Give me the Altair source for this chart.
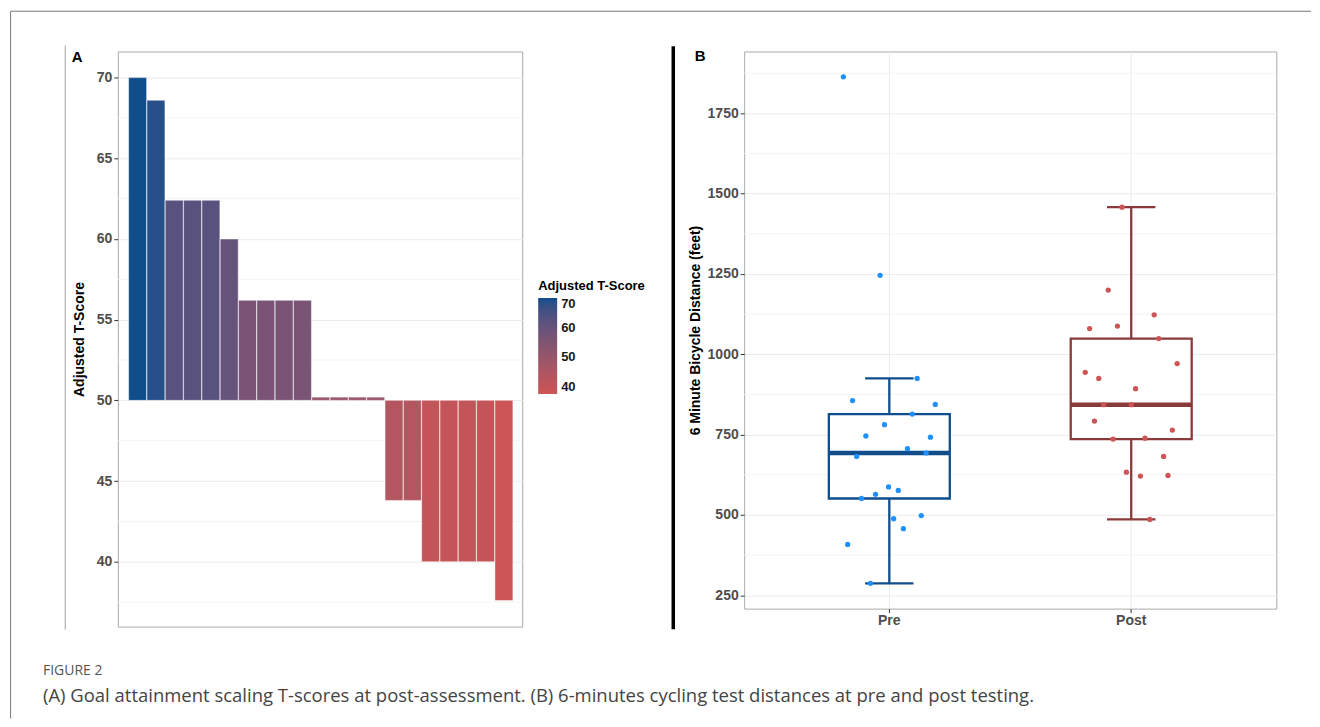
import altair as alt
import pandas as pd

# ---------------- Panel A data ----------------
participants = [f"P{i:02d}" for i in range(1, 22)]
t_scores = [70.0, 68.6, 62.4, 62.4, 62.4, 60.0, 56.2, 56.2, 56.2, 56.2,
            50.2, 50.2, 50.2, 50.2, 43.8, 43.8, 40.0, 40.0, 40.0, 40.0, 37.6]
t_ticks = [40, 45, 50, 55, 60, 65, 70]
t_minor = [37.5, 42.5, 47.5, 52.5, 57.5, 62.5, 67.5]
legend_values = [40, 50, 60, 70]

# ---------------- Panel B data ----------------
groups = ["Pre", "Post"]
pre_distance = [1864, 1246, 925, 856, 844, 814, 781, 746, 742, 706, 693,
                682, 587, 576, 564, 551, 498, 488, 457, 408, 287]
pre_jitter = [-0.19, -0.038, 0.115, -0.152, 0.19, 0.095, -0.02, -0.097, 0.17, 0.075, 0.152,
              -0.135, -0.003, 0.037, -0.057, -0.115, 0.132, 0.018, 0.058, -0.172, -0.078]
post_distance = [1458, 1200, 1123, 1088, 1080, 1049, 971, 944, 925, 893, 843,
                 843, 792, 764, 736, 739, 682, 633, 621, 623, 486]
post_jitter = [-0.038, -0.095, 0.095, -0.057, -0.172, 0.114, 0.19, -0.19, -0.134, 0.018, -0.114,
               0.0, -0.152, 0.17, -0.075, 0.057, 0.134, -0.02, 0.038, 0.152, 0.077]
dist_ticks = [250, 500, 750, 1000, 1250, 1500, 1750]
dist_minor = [375, 625, 875, 1125, 1375, 1625, 1875]

panel_tags = ["A", "B"]
caption_head = ["FIGURE 2"]
caption_text = ["(A) Goal attainment scaling T-scores at post-assessment. "
                "(B) 6-minutes cycling test distances at pre and post testing."]

# ---------------- layout / style ----------------
FONT = "Liberation Sans"
A_W, A_H = 405, 576
B_W, B_H = 533, 558
B_STEP = B_W / 2.2
PRE_BLUE, PRE_BOX = "#1E90FF", "#104E8B"
POST_RED, POST_BOX = "#CD5555", "#8B3A3A"

one = pd.DataFrame({"k": [0]})


def vline(x, y1, y2, color, width):
    return alt.Chart(one).mark_rule(color=color, strokeWidth=width).encode(
        x=alt.value(x), y=alt.value(y1), y2=alt.value(y2))


def hline(y, x1, x2, color, width):
    return alt.Chart(one).mark_rule(color=color, strokeWidth=width).encode(
        y=alt.value(y), x=alt.value(x1), x2=alt.value(x2))


def label(texts, x, y, size, color, weight="normal", font=FONT, align="left"):
    return alt.Chart(pd.DataFrame({"label": texts})).mark_text(
        align=align, baseline="middle", fontSize=size, fontWeight=weight,
        font=font, color=color).encode(text="label:N", x=alt.value(x), y=alt.value(y))


# ---------------- Panel A ----------------
dfA = pd.DataFrame({"participant": participants, "t_score": t_scores})
a_span = max(t_scores) - min(t_scores)
a_dom = [min(t_scores) - 0.05 * a_span, max(t_scores) + 0.05 * a_span]
yA_scale = alt.Scale(domain=a_dom, nice=False, zero=False)
yA_axis = alt.Axis(values=t_ticks, title="Adjusted T-Score", titlePadding=10,
                   grid=True, format="d")

minorA = alt.Chart(pd.DataFrame({"v": t_minor})).mark_rule(
    color="#F3F3F3", strokeWidth=1).encode(
    y=alt.Y("v:Q", scale=yA_scale, axis=yA_axis))

bars = alt.Chart(dfA).mark_bar(stroke="white", strokeWidth=0.8, strokeOpacity=0.6).encode(
    x=alt.X("participant:O", sort=None, axis=None,
            scale=alt.Scale(paddingInner=0.1, paddingOuter=0.59)),
    y=alt.Y("t_score:Q", scale=yA_scale, axis=yA_axis),
    y2=alt.datum(50),
    color=alt.Color("t_score:Q",
                    scale=alt.Scale(range=[POST_RED, PRE_BOX], interpolate="lab",
                                    nice=False, zero=False),
                    legend=alt.Legend(orient="none", legendX=421, legendY=229,
                                      direction="vertical", gradientLength=96,
                                      gradientThickness=19, title="Adjusted T-Score",
                                      titleFontSize=13, titleFontWeight="bold",
                                      titleFont=FONT, titleColor="black", titlePadding=5,
                                      labelFont=FONT, labelFontSize=13,
                                      labelFontWeight="bold", labelColor="#1A1A1A",
                                      values=legend_values, gradientStrokeWidth=0,
                                      labelOffset=4)),
)

panelA = alt.layer(
    minorA,
    bars,
    label(panel_tags[:1], -40.7, 5.7, 15, "black", "bold", align="center"),
    vline(-52.7, -6, 579, "#A0A0A0", 1),
    vline(-107.4, -40.3, 668, "#777777", 1),
    hline(-40.3, -107.4, 1195, "#777777", 1),
    label(caption_head, -75, 620.7, 14, "#555555", font="Open Sans"),
    label(caption_text, -75, 645.7, 18.5, "#444444", font="Open Sans"),
).properties(width=A_W, height=A_H)

# ---------------- Panel B ----------------
dfPre = pd.DataFrame({"group": "Pre", "distance": pre_distance, "jitter": pre_jitter})
dfPost = pd.DataFrame({"group": "Post", "distance": post_distance, "jitter": post_jitter})
dfB = pd.concat([dfPre, dfPost], ignore_index=True)
all_d = pre_distance + post_distance
b_span = max(all_d) - min(all_d)
b_dom = [min(all_d) - 0.05 * b_span, max(all_d) + 0.05 * b_span]

xB = alt.X("group:N", sort=groups,
           scale=alt.Scale(domain=groups, paddingInner=0, paddingOuter=0.1),
           axis=alt.Axis(title=None, labelAngle=0, grid=True, bandPosition=0.5,
                         labelPadding=1))
yB_scale = alt.Scale(domain=b_dom, nice=False, zero=False)
yB_axis = alt.Axis(values=dist_ticks, title="6 Minute Bicycle Distance (feet)",
                   titlePadding=5, grid=True, format="d")
yB = alt.Y("distance:Q", scale=yB_scale, axis=yB_axis)

minorB = alt.Chart(pd.DataFrame({"distance": dist_minor})).mark_rule(
    color="#F3F3F3", strokeWidth=1).encode(y=yB)


def box(group, color):
    return alt.Chart(dfB).transform_filter(alt.datum.group == group).mark_boxplot(
        extent=1.5, outliers=False, size=B_STEP * 0.5, color=color,
        box={"fill": "white", "stroke": color, "strokeWidth": 2.3},
        median={"color": color, "thickness": 4.5, "opacity": 1},
        rule={"color": color, "strokeWidth": 2.3},
        ticks={"color": color, "size": B_STEP * 0.2, "thickness": 2.3, "opacity": 1},
    ).encode(x=xB, y=yB)


def pts(df, color):
    return alt.Chart(df).mark_circle(size=28, opacity=1, color=color).encode(
        x=xB,
        xOffset=alt.XOffset("jitter:Q", scale=alt.Scale(domain=[-0.5, 0.5],
                                                         range=[0, B_STEP])),
        y=yB)


panelB = alt.layer(
    minorB,
    box("Pre", PRE_BOX),
    box("Post", POST_BOX),
    pts(dfPre, PRE_BLUE),
    pts(dfPost, POST_RED),
    label(panel_tags[1:], -44, 4.7, 15, "black", "bold", align="center"),
    vline(-71, -5.3, 578.7, "black", 3.5),
).properties(width=B_W, height=B_H)

chart = alt.hconcat(panelA, panelB, spacing=222.3, bounds="flush").resolve_scale(
    color="independent"
).properties(
    padding={"left": 1, "top": 1, "right": 0, "bottom": 0},
    background="white",
).configure_view(
    stroke="#AAAAAA", strokeWidth=1
).configure_axis(
    labelFont=FONT, labelFontSize=14, labelFontWeight="bold", labelColor="#4D4D4D",
    titleFont=FONT, titleFontSize=14, titleFontWeight="bold", titleColor="black",
    tickColor="#333333", tickSize=4, tickWidth=1, domain=False,
    gridColor="#EBEBEB", gridWidth=1, labelPadding=2,
)

chart.save("out.html", embed_options={"renderer": "svg", "actions": False})
